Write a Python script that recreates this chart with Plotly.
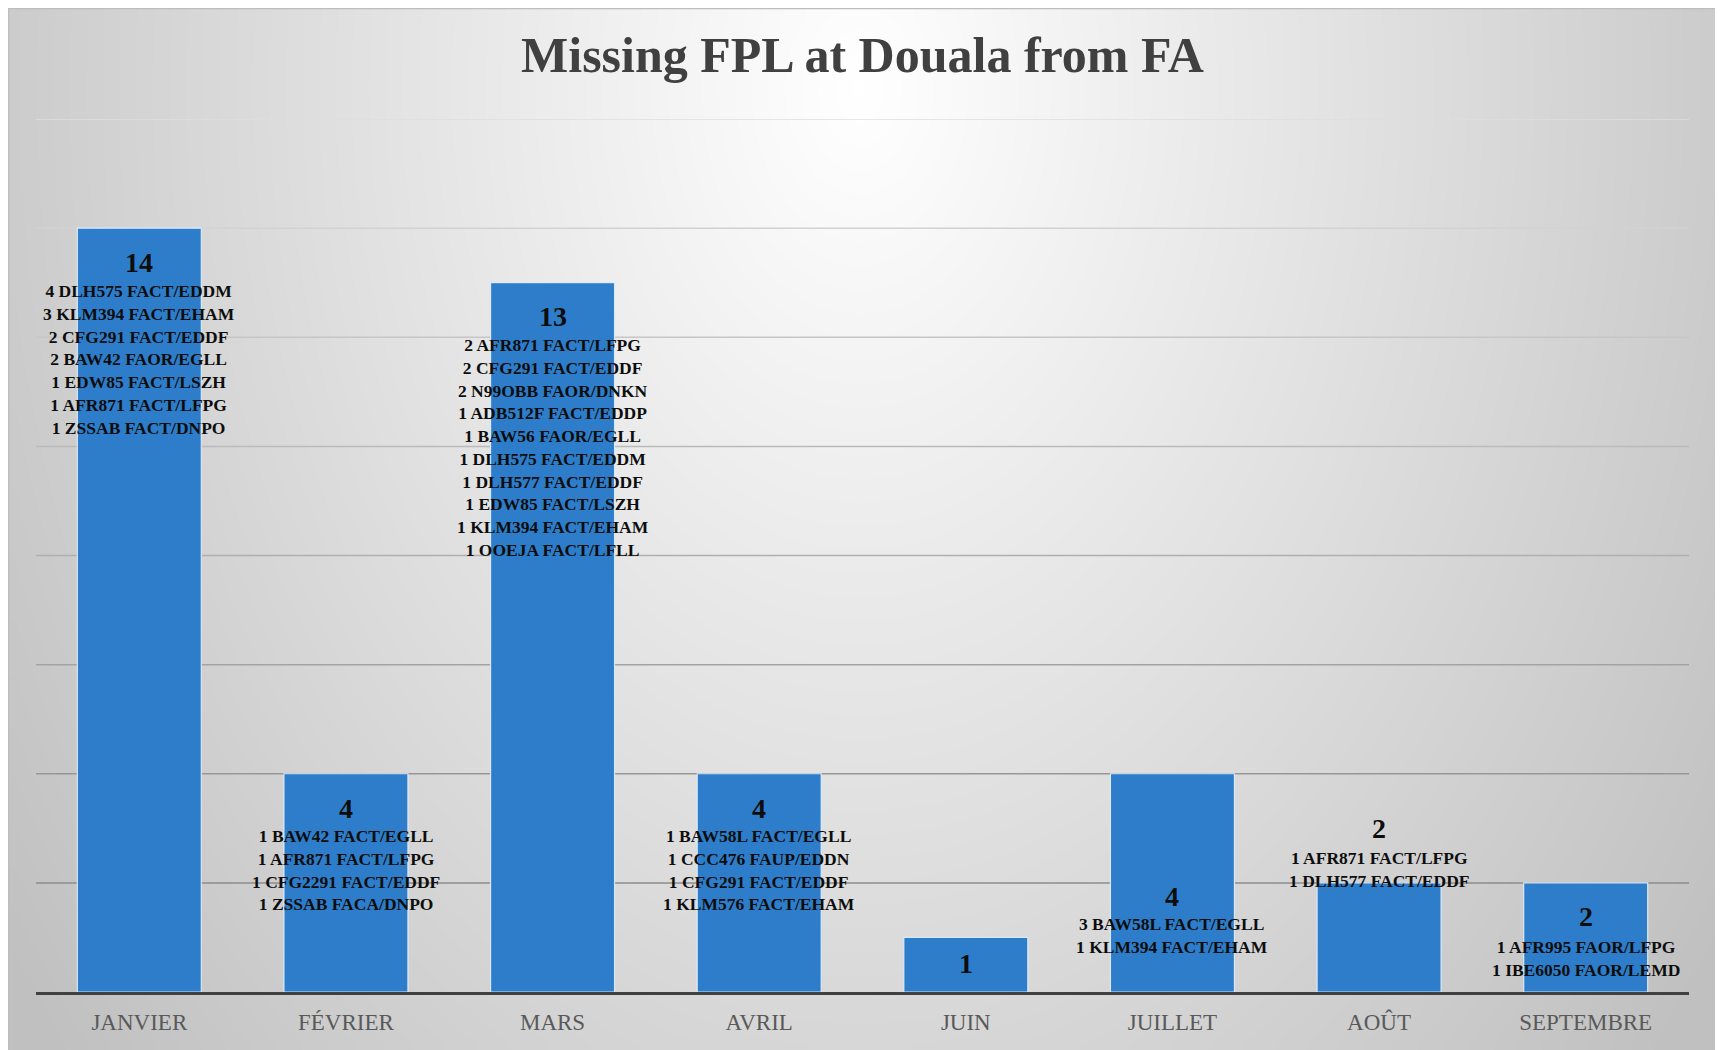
import numpy as np
import plotly.graph_objects as go

# ---------------- data ----------------
categories = ["JANVIER", "FÉVRIER", "MARS", "AVRIL", "JUIN", "JUILLET", "AOÛT", "SEPTEMBRE"]
values = [14, 4, 13, 4, 1, 4, 2, 2]
details = [
    ["4 DLH575 FACT/EDDM", "3 KLM394 FACT/EHAM", "2 CFG291 FACT/EDDF", "2 BAW42 FAOR/EGLL",
     "1 EDW85 FACT/LSZH", "1 AFR871 FACT/LFPG", "1 ZSSAB FACT/DNPO"],
    ["1 BAW42 FACT/EGLL", "1 AFR871 FACT/LFPG", "1 CFG2291 FACT/EDDF", "1 ZSSAB FACA/DNPO"],
    ["2 AFR871 FACT/LFPG", "2 CFG291 FACT/EDDF", "2 N99OBB FAOR/DNKN", "1 ADB512F FACT/EDDP",
     "1 BAW56 FAOR/EGLL", "1 DLH575 FACT/EDDM", "1 DLH577 FACT/EDDF", "1 EDW85 FACT/LSZH",
     "1 KLM394 FACT/EHAM", "1 OOEJA FACT/LFLL"],
    ["1 BAW58L FACT/EGLL", "1 CCC476 FAUP/EDDN", "1 CFG291 FACT/EDDF", "1 KLM576 FACT/EHAM"],
    [],
    ["3 BAW58L FACT/EGLL", "1 KLM394 FACT/EHAM"],
    ["1 AFR871 FACT/LFPG", "1 DLH577 FACT/EDDF"],
    ["1 AFR995 FAOR/LFPG", "1 IBE6050 FAOR/LEMD"],
]
title_text = "Missing FPL at Douala from FA"
y_max = 16
grid_values = [2, 4, 6, 8, 10, 12, 14, 16]

# ---------------- style ----------------
# the page body has an 8px margin, so the figure is sized to fit the window
W, H = 1715, 1042
FONT = "Liberation Serif"
BAR_COLOR = "#2E7DCA"
num_shift = [-34, -35, -34, -35, -26, -123, 54, -34]      # px, label centre relative to bar top
det_shift = [-63, -62, -62, -62, 0, -150, 25, -64]         # px, first detail line centre

# plot area in figure pixels
PL, PR, PT, PB = 28, 1681, 111, 984

# background radial gradient (decoration)
nx, ny = 120, 80
xe = np.linspace(0, 1, nx + 1)
ye = np.linspace(0, 1, ny + 1)
xc = (xe[:-1] + xe[1:]) / 2 * W
yc = (ye[:-1] + ye[1:]) / 2 * H
PX, PY = np.meshgrid(xc, yc)
r = np.sqrt(((PX - 853) / 1000) ** 2 + ((PY - 80) / 1420) ** 2)
v = np.clip(255 - 60 * r, 192, 255)
Z = (v - 185) / 70

fig = go.Figure()
fig.add_trace(go.Heatmap(
    z=Z, x=xe, y=ye, colorscale=[[0, "#b9b9b9"], [1, "#ffffff"]], zmin=0, zmax=1,
    showscale=False, zsmooth="best", hoverinfo="skip", xaxis="x", yaxis="y"))

fig.add_trace(go.Bar(
    x=categories, y=values, xaxis="x2", yaxis="y2",
    marker=dict(color=BAR_COLOR, line=dict(color="rgba(225,238,252,0.9)", width=1.2)),
    hoverinfo="x+y"))

shapes = []
n = len(categories)
for g in grid_values:
    t = (g - grid_values[0]) / (grid_values[-1] - grid_values[0])
    c = int(140 + t * 82)
    shapes.append(dict(type="line", xref="x2", yref="y2", x0=-0.5, x1=n - 0.5, y0=g, y1=g,
                       line=dict(color=f"rgb({c},{c},{c})", width=1.5), layer="below"))
shapes.append(dict(type="rect", xref="paper", yref="paper", x0=0.5 / W, x1=1712 / W, y0=-0.01, y1=1 - 0.5 / H,
                   line=dict(color="#bdbdbd", width=1.5), layer="above"))

annotations = []
for i, cat in enumerate(categories):
    annotations.append(dict(
        x=cat, y=values[i], xref="x2", yref="y2", text=f"<b>{values[i]}</b>",
        showarrow=False, yanchor="middle", yshift=num_shift[i],
        font=dict(family=FONT, size=28, color="#0d0d0d")))
    if details[i]:
        annotations.append(dict(
            x=cat, y=values[i], xref="x2", yref="y2",
            text="<br>".join(f"<b>{s}</b>" for s in details[i]),
            showarrow=False, yanchor="top", yshift=det_shift[i] + 12, align="center",
            font=dict(family=FONT, size=17.5, color="#0d0d0d")))

fig.update_layout(
    width=W, height=H,
    margin=dict(l=0, r=0, t=0, b=0),
    paper_bgcolor="#ffffff", plot_bgcolor="rgba(0,0,0,0)",
    showlegend=False, bargap=0.4,
    title=dict(text=f"<b>{title_text}</b>", x=(PL + PR) / 2 / W, xanchor="center", y=1 - 46 / H,
               yanchor="middle", yref="container", font=dict(family=FONT, size=50, color="#404040")),
    xaxis=dict(domain=[0, 1712 / W], range=[0, 1], visible=False, fixedrange=True),
    yaxis=dict(domain=[0, 1], range=[1, 0], visible=False, fixedrange=True),
    xaxis2=dict(domain=[PL / W, PR / W], anchor="y2", range=[-0.5, n - 0.5], showline=True,
                linecolor="#404040", linewidth=3, showgrid=False, ticks="", ticklabelstandoff=7,
                tickfont=dict(family=FONT, size=23, color="#595959")),
    yaxis2=dict(domain=[(H - PB) / H, (H - PT) / H], anchor="x2", range=[0, y_max], visible=False,
                showgrid=False),
    shapes=shapes, annotations=annotations,
)

fig.write_html("out.html")
